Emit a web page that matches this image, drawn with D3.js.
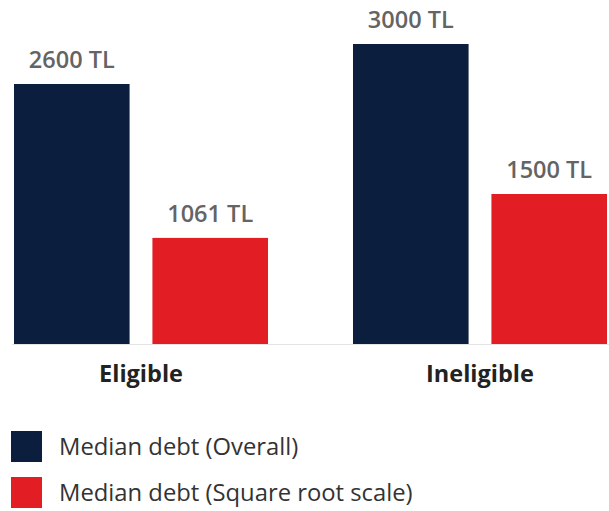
<!DOCTYPE html>
<html>
<head>
<meta charset="utf-8">
<script src="https://cdn.jsdelivr.net/npm/d3@7"></script>
<style>
  html, body { margin: 0; padding: 0; background: #fff; }
  svg { display: block; font-family: "Open Sans", "Noto Sans", sans-serif; }
</style>
</head>
<body>
<svg id="chart" width="609" height="511"></svg>
<script>
const categories = ["Eligible", "Ineligible"];
const seriesNames = ["Median debt (Overall)", "Median debt (Square root scale)"];
const overallValues = [2600, 3000];
const sqrtScaleValues = [1061, 1500];
const valueLabels = [["2600 TL", "1061 TL"], ["3000 TL", "1500 TL"]];
const colors = ["#0b1e3e", "#e31d24"];

const svg = d3.select("#chart");
const baseY = 344;

const x0 = d3.scaleBand().domain(categories).range([14, 607]).paddingInner(0.2507).paddingOuter(0);
const x1 = d3.scaleBand().domain(seriesNames).range([0, x0.bandwidth()]).paddingInner(0.165).paddingOuter(0);
const y = d3.scaleLinear().domain([0, 3000]).range([baseY, 44]);

const rows = categories.map((c, i) => ({
  cat: c,
  vals: [
    { s: seriesNames[0], v: overallValues[i], label: valueLabels[i][0], color: colors[0] },
    { s: seriesNames[1], v: sqrtScaleValues[i], label: valueLabels[i][1], color: colors[1] }
  ]
}));

// baseline
svg.append("line")
  .attr("x1", 12).attr("x2", 609)
  .attr("y1", baseY + 0.5).attr("y2", baseY + 0.5)
  .attr("stroke", "#e4e4e4").attr("stroke-width", 1);

const g = svg.selectAll("g.grp").data(rows).join("g")
  .attr("class", "grp")
  .attr("transform", d => `translate(${x0(d.cat)},0)`);

g.selectAll("rect").data(d => d.vals).join("rect")
  .attr("x", d => x1(d.s))
  .attr("y", d => y(d.v))
  .attr("width", x1.bandwidth())
  .attr("height", d => baseY - y(d.v))
  .attr("fill", d => d.color);

g.selectAll("text.val").data(d => d.vals).join("text")
  .attr("class", "val")
  .attr("x", d => x1(d.s) + x1.bandwidth() / 2)
  .attr("y", d => y(d.v) - 16)
  .attr("text-anchor", "middle")
  .attr("font-size", 23.5)
  .attr("font-weight", 600)
  .attr("fill", "#646464")
  .text(d => d.label);

// category axis labels
const xAxis = d3.axisBottom(x0).tickSize(0).tickPadding(0);
const ax = svg.append("g").attr("transform", `translate(0,${baseY})`).call(xAxis);
ax.select(".domain").remove();
ax.selectAll("text")
  .attr("dy", null)
  .attr("y", 38)
  .attr("font-family", "'Open Sans', 'Noto Sans', sans-serif")
  .attr("font-size", 23.5)
  .attr("font-weight", 700)
  .attr("fill", "#222");

// legend
const leg = svg.selectAll("g.leg").data(seriesNames).join("g")
  .attr("class", "leg")
  .attr("transform", (d, i) => `translate(11,${431 + i * 46})`);
leg.append("rect").attr("width", 31).attr("height", 31).attr("fill", (d, i) => colors[i]);
leg.append("text")
  .attr("x", 48).attr("y", 24)
  .attr("font-size", 23.8)
  .attr("fill", "#333")
  .text(d => d);
</script>
</body>
</html>
